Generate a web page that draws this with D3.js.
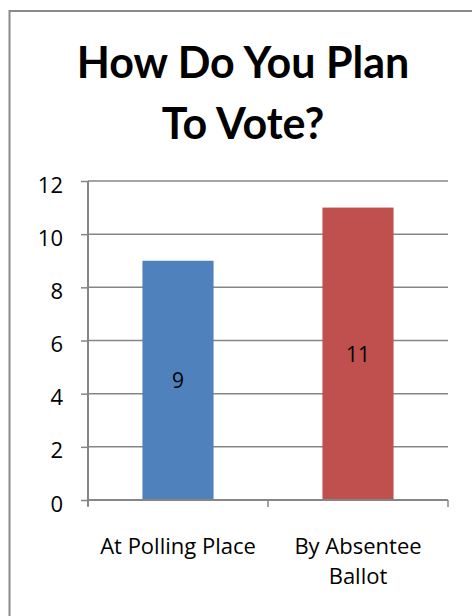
<!DOCTYPE html>
<html>
<head>
<meta charset="utf-8">
<script src="https://cdn.jsdelivr.net/npm/d3@7"></script>
<style>
  html, body { margin: 0; background: #fff; overflow: hidden; }
  svg { display: block; }
  svg text { font-family: "Open Sans", Lato, sans-serif; fill: #000; }
</style>
</head>
<body>
<div id="chart"></div>
<script>
// chart data
var categories = ["At Polling Place", "By Absentee Ballot"];
var categoryLines = [["At Polling Place"], ["By Absentee", "Ballot"]];
var values = [9, 11];
var barColors = ["#4F81BD", "#C0504D"];
var yTicks = [0, 2, 4, 6, 8, 10, 12];
var titleLines = ["How Do You Plan", "To Vote?"];

var width = 472, height = 616;
var plot = { left: 88, right: 448, top: 181, bottom: 500 };

var svg = d3.select("#chart").append("svg")
    .attr("width", width)
    .attr("height", height);

// outer chart border (right and bottom edges fall outside the picture)
svg.append("rect")
    .attr("x", 9.5).attr("y", 11)
    .attr("width", 500).attr("height", 640)
    .style("fill", "none")
    .style("stroke", "#8a8a8a")
    .style("stroke-width", 2);

// title
svg.append("g").selectAll("text")
    .data(titleLines)
    .enter().append("text")
    .attr("x", 243)
    .attr("y", function (d, i) { return 78 + i * 61; })
    .attr("text-anchor", "middle")
    .style("font-family", "Lato, sans-serif")
    .style("font-weight", "bold")
    .style("font-size", "43px")
    .text(function (d) { return d; });

var x = d3.scaleBand()
    .domain(categories)
    .range([plot.left, plot.right])
    .padding(0);

var y = d3.scaleLinear()
    .domain([0, 12])
    .range([plot.bottom, plot.top]);

var barW = x.bandwidth() * 0.395;

// gridlines
svg.append("g").selectAll("line")
    .data(yTicks.filter(function (d) { return d > 0; }))
    .enter().append("line")
    .attr("x1", plot.left).attr("x2", plot.right)
    .attr("y1", function (d) { return y(d); })
    .attr("y2", function (d) { return y(d); })
    .style("stroke", "#868686")
    .style("stroke-width", 1.5);

// bars
svg.append("g").selectAll("rect")
    .data(values)
    .enter().append("rect")
    .attr("x", function (d, i) { return x(categories[i]) + x.bandwidth() / 2 - barW / 2; })
    .attr("y", function (d) { return y(d); })
    .attr("width", barW)
    .attr("height", function (d) { return y(0) - y(d); })
    .style("fill", function (d, i) { return barColors[i]; });

// data labels
svg.append("g").selectAll("text")
    .data(values)
    .enter().append("text")
    .attr("x", function (d, i) { return x(categories[i]) + x.bandwidth() / 2; })
    .attr("y", function (d) { return (y(d) + y(0)) / 2 + 8; })
    .attr("text-anchor", "middle")
    .style("font-size", "21px")
    .text(function (d) { return d; });

// y axis
var yAxis = d3.axisLeft(y).tickValues(yTicks).tickSize(7).tickPadding(18);
var gy = svg.append("g")
    .attr("transform", "translate(" + plot.left + ",0)")
    .call(yAxis);
gy.select(".domain").remove();
gy.selectAll(".tick line").style("stroke", "#868686").style("stroke-width", 1.5);
gy.selectAll(".tick text")
    .attr("dy", "0.5em")
    .style("font-family", "'Open Sans', sans-serif")
    .style("font-size", "22px")
    .style("fill", "#000");
gy.append("line")
    .attr("x1", 0).attr("x2", 0)
    .attr("y1", plot.top).attr("y2", plot.bottom + 6)
    .style("stroke", "#868686").style("stroke-width", 2);

// x axis
var gx = svg.append("g")
    .attr("transform", "translate(0," + plot.bottom + ")");
gx.append("line")
    .attr("x1", plot.left).attr("x2", plot.right)
    .style("stroke", "#868686").style("stroke-width", 2);
var xEdges = [x(categories[0]), x(categories[1]), plot.right];
gx.selectAll("line.tk")
    .data(xEdges)
    .enter().append("line")
    .attr("class", "tk")
    .attr("x1", function (d) { return d; }).attr("x2", function (d) { return d; })
    .attr("y1", 0).attr("y2", 7)
    .style("stroke", "#868686").style("stroke-width", 1.5);

var cat = gx.selectAll("text.cat")
    .data(categoryLines)
    .enter().append("text")
    .attr("class", "cat")
    .attr("text-anchor", "middle")
    .style("font-size", "22px");
cat.selectAll("tspan")
    .data(function (d, i) { return d.map(function (s) { return { s: s, i: i }; }); })
    .enter().append("tspan")
    .attr("x", function (d) { return x(categories[d.i]) + x.bandwidth() / 2; })
    .attr("y", function (d, j) { return 54 + j * 30; })
    .text(function (d) { return d.s; });
</script>
</body>
</html>
